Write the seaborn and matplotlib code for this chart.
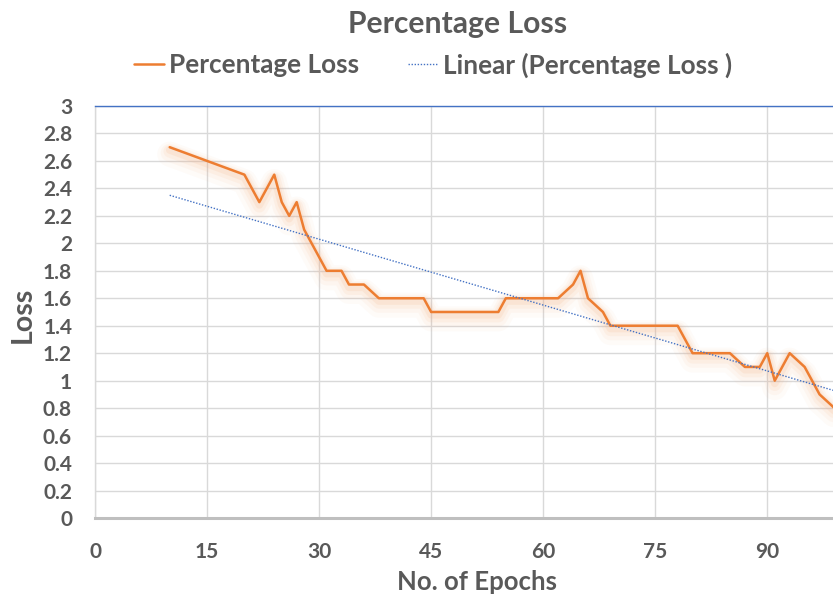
import numpy as np
import pandas as pd
import matplotlib
matplotlib.use("Agg")
import matplotlib.pyplot as plt
import matplotlib.patheffects as pe
import seaborn as sns

# ---- data ----
epochs = [10, 20, 22, 24, 25, 26, 27, 28, 31, 33, 34, 36, 38, 44, 45, 54, 55,
          62, 64, 65, 66, 68, 69, 78, 80, 85, 87, 89, 90, 91, 93, 95, 97, 99]
loss = [2.7, 2.5, 2.3, 2.5, 2.3, 2.2, 2.3, 2.1, 1.8, 1.8, 1.7, 1.7, 1.6, 1.6, 1.5, 1.5, 1.6,
        1.6, 1.7, 1.8, 1.6, 1.5, 1.4, 1.4, 1.2, 1.2, 1.1, 1.1, 1.2, 1.0, 1.2, 1.1, 0.9, 0.8]
# linear trendline (value at epoch 10 and at the right edge)
trend_epochs = [10, 98.8]
trend_loss = [2.35, 0.93]
x_ticks = [0, 15, 30, 45, 60, 75, 90]
y_ticks = [0, 0.2, 0.4, 0.6, 0.8, 1, 1.2, 1.4, 1.6, 1.8, 2, 2.2, 2.4, 2.6, 2.8, 3]
title = "Percentage Loss"
series_name = "Percentage Loss"
trend_name = "Linear (Percentage Loss )"
x_label = "No. of Epochs"
y_label = "Loss"

df = pd.DataFrame({"epoch": epochs, "loss": loss})
trend_df = pd.DataFrame({"epoch": trend_epochs, "loss": trend_loss})

sns.set_theme(style="white")
plt.rcParams["font.family"] = ["Lato", "DejaVu Sans"]
TXT = "#595959"

fig = plt.figure(figsize=(8.33, 6.01), dpi=100)
ax = fig.add_axes([95 / 833, 83 / 601, 738 / 833, 412 / 601])

# soft glow/shadow underneath the orange line
for w, a, off in [(18, 0.05, -5), (13, 0.07, -4), (9, 0.10, -3), (5.5, 0.15, -2)]:
    sns.lineplot(data=df, x="epoch", y="loss", ax=ax, color="#F4B183", linewidth=w,
                 alpha=a, legend=False, sort=False, estimator=None,
                 path_effects=[pe.Stroke(offset=(0, off))])

sns.lineplot(data=df, x="epoch", y="loss", ax=ax, color="#ED7D31", linewidth=1.8,
             label=series_name, sort=False, estimator=None, zorder=5)
sns.lineplot(data=trend_df, x="epoch", y="loss", ax=ax, color="#4472C4", linewidth=1.0,
             linestyle=(0, (1, 1.2)), label=trend_name, sort=False, estimator=None, zorder=6)

ax.set_xlim(0, 98.8)
ax.set_ylim(0, 3)
ax.set_xticks(x_ticks)
ax.set_yticks(y_ticks)
ax.set_yticklabels([f"{v:g}" for v in y_ticks])
ax.grid(True, color="#D9D9D9", linewidth=1.0)
ax.set_axisbelow(True)
ax.spines["right"].set_visible(False)
ax.spines["top"].set_color("#4472C4")
ax.spines["top"].set_linewidth(1.0)
ax.spines["left"].set_color("#D9D9D9")
ax.spines["left"].set_linewidth(1.0)
ax.spines["bottom"].set_color("#BFBFBF")
ax.spines["bottom"].set_linewidth(2.2)
ax.tick_params(axis="both", length=0, labelsize=15, labelcolor=TXT)
ax.tick_params(axis="x", pad=17)
ax.tick_params(axis="y", pad=16.5)
for lab in ax.get_xticklabels() + ax.get_yticklabels():
    lab.set_fontweight("bold")

ax.set_xlabel(x_label, fontsize=18.5, fontweight="bold", color=TXT)
ax.set_ylabel(y_label, fontsize=20.5, fontweight="bold", color=TXT)
ax.xaxis.label.set_va("center")
ax.yaxis.label.set_va("center")
ax.xaxis.set_label_coords(0.5176, -0.155)
ax.yaxis.set_label_coords(-0.0976, 0.492)

fig.text(458 / 833, 1 - 33.5 / 601, title, ha="center", va="baseline", fontsize=21.7,
         fontweight="bold", color=TXT)
handles, labels = ax.get_legend_handles_labels()
ax.get_legend().remove()
leg = fig.legend(handles=handles, labels=[series_name, trend_name], loc="center",
                 bbox_to_anchor=(433 / 833, 1 - 65 / 601), frameon=False, ncol=2,
                 fontsize=18.8, handlelength=1.15, columnspacing=1.85, handletextpad=0.19)
for t in leg.get_texts():
    t.set_color(TXT)
    t.set_fontweight("bold")

fig.savefig("out.png", dpi=100)
